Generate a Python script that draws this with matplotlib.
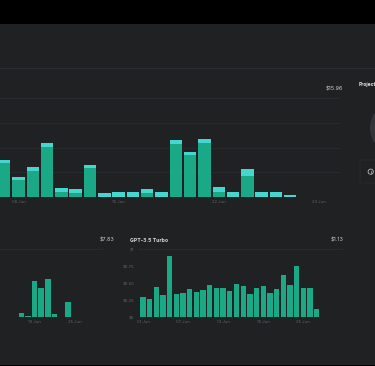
import matplotlib
matplotlib.use('Agg')
import matplotlib.pyplot as plt
from matplotlib.patches import Rectangle, Circle, FancyBboxPatch

W = 375
H = 366

BG = '#202123'
GREEN = '#1aa887'
CYAN = '#45d6cf'
GRID = '#2a2b2e'
LABEL = '#636468'

# main chart, in grid steps
main_green = [1.36, 0.68, 1.06, 2.04, 0.19, 0.14, 1.15, 0, 0, 0, 0.17, 0, 2.13, 1.69, 2.20, 0.19, 0, 0.85, 0, 0, 0]
main_cyan = [0.14, 0.14, 0.14, 0.15, 0.16, 0.16, 0.14, 0.15, 0.19, 0.18, 0.16, 0.19, 0.16, 0.12, 0.14, 0.20, 0.19, 0.27, 0.18, 0.18, 0.07]
main_ticks = [1, 8, 15, 22]
main_ticklabels = ['08 Jun', '15 Jun', '22 Jun', '29 Jun']
main_total = '$15.96'

# left small chart
left_values = [0.05, 0.01, 0.53, 0.42, 0.55, 0.04, 0, 0.22]
left_ticks = [2, 8]
left_ticklabels = ['19 Jun', '25 Jun']
left_total = '$7.83'

# GPT-3.5 Turbo
gpt_values = [0.290, 0.265, 0.445, 0.315, 0.900, 0.340, 0.345, 0.415, 0.365, 0.395, 0.465, 0.430, 0.430, 0.380, 0.485, 0.460, 0.330, 0.420, 0.450, 0.355, 0.405, 0.610, 0.470, 0.745, 0.425, 0.425, 0.120]
gpt_yticks = [0, 0.25, 0.50, 0.75, 1.00]
gpt_yticklabels = ['$0', '$0.25', '$0.50', '$0.75', '$1']
gpt_ticks = [0, 6, 12, 18, 24]
gpt_ticklabels = ['01 Jun', '07 Jun', '13 Jun', '19 Jun', '25 Jun']
gpt_title = 'GPT-3.5 Turbo'
gpt_total = '$1.13'


def px_axes(fig, x0, y0, x1, y1):
    # pixel box measured from the top left of the picture
    ax = fig.add_axes([x0 / W, 1 - y1 / H, (x1 - x0) / W, (y1 - y0) / H])
    ax.set_facecolor('none')
    for s in ax.spines.values():
        s.set_visible(False)
    return ax


def style_axis(ax, ticks, ticklabels):
    ax.set_xticks(ticks)
    ax.set_xticklabels(ticklabels, color=LABEL, fontsize=3.0)
    ax.tick_params(length=0, pad=2.5)
    ax.set_axisbelow(True)
    ax.yaxis.grid(True, color=GRID, lw=0.7)


plt.rcParams['font.family'] = ['Inter', 'DejaVu Sans']
fig = plt.figure(figsize=(W / 100, H / 100), dpi=100, facecolor='black')

# page panels, whole picture in pixels
page = fig.add_axes([0, 0, 1, 1])
page.set_xlim(0, W)
page.set_ylim(H, 0)
page.axis('off')
page.add_patch(Rectangle((0, 23.5), W, 341.5, color=BG, lw=0))
page.plot([0, W], [67.7, 67.7], color='#2c2d30', lw=0.7)
page.add_patch(Circle((398, 128), 28, color='#33343a', lw=0))
page.add_patch(Circle((398, 128), 17, color=BG, lw=0))
page.add_patch(FancyBboxPatch((360, 160), 32, 23, boxstyle='round,pad=0,rounding_size=2', fc=BG, ec='#2a2b2e', lw=0.6))
page.add_patch(Circle((370.7, 171.7), 2.6, fc='none', ec='#b9babd', lw=0.6))
page.plot([370.7, 370.7], [170.7, 173.2], color='#b9babd', lw=0.5)
page.text(359, 84.5, 'Project', color='#e6e6e8', fontsize=3.6, fontweight='bold', va='center')

# main chart
ax = px_axes(fig, 0, 98.3, 340, 196.7)
x = list(range(len(main_green)))
ax.bar(x, main_green, width=0.87, color=GREEN)
ax.bar(x, main_cyan, width=0.87, bottom=main_green, color=CYAN)
ax.set_xlim(-0.294, 23.48)
ax.set_ylim(0, 4)
ax.set_yticks([0, 1, 2, 3, 4])
ax.set_yticklabels([])
style_axis(ax, main_ticks, main_ticklabels)
page.text(334, 89, main_total, color='#c9cacc', fontsize=3.9, ha='center', va='center')

# left small chart
ax = px_axes(fig, 0, 249, 103, 316.7)
ax.bar(range(len(left_values)), left_values, width=0.82, color=GREEN)
ax.set_xlim(-3.2, 12.3)
ax.set_ylim(0, 1.0)
ax.set_yticks([0, 1.0])
ax.set_yticklabels([])
style_axis(ax, left_ticks, left_ticklabels)
page.text(107, 240, left_total, color='#c9cacc', fontsize=3.9, ha='center', va='center')

# GPT-3.5 Turbo
ax = px_axes(fig, 138, 249, 343, 316.7)
ax.bar(range(len(gpt_values)), gpt_values, width=0.8, color=GREEN)
ax.set_xlim(-0.75, 29.95)
ax.set_ylim(0, 1.0)
ax.set_yticks(gpt_yticks)
ax.set_yticklabels(gpt_yticklabels, color=LABEL, fontsize=3.0)
style_axis(ax, gpt_ticks, gpt_ticklabels)
ax.yaxis.grid(False)
ax.axhline(0, color=GRID, lw=0.7)
ax.axhline(1.0, color=GRID, lw=0.7)
page.text(130, 240, gpt_title, color='#d8d9db', fontsize=3.7, fontweight='bold', va='center')
page.text(337, 240, gpt_total, color='#c9cacc', fontsize=3.9, ha='center', va='center')

fig.savefig('out.png', dpi=100, facecolor='black')
